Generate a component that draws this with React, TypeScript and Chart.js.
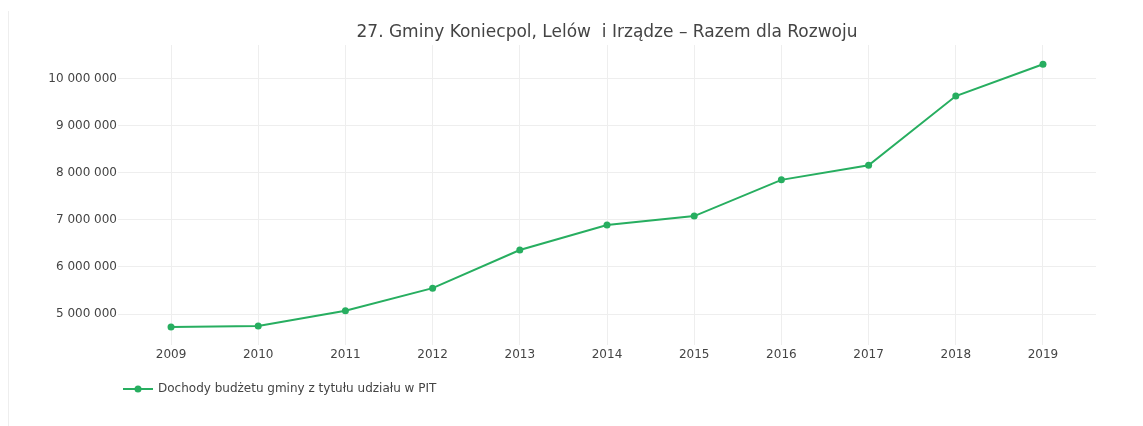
import React, { useEffect, useRef } from "react";
import { Chart, registerables } from "chart.js";

Chart.register(...registerables);

const title = "27. Gminy Koniecpol, Lelów  i Irządze – Razem dla Rozwoju";
const seriesLabel = "Dochody budżetu gminy z tytułu udziału w PIT";
const years = [2009, 2010, 2011, 2012, 2013, 2014, 2015, 2016, 2017, 2018, 2019];
const values = [4725000, 4745000, 5070000, 5550000, 6360000, 6890000, 7080000, 7850000, 8160000, 9630000, 10305000];
const yTicks = [5000000, 6000000, 7000000, 8000000, 9000000, 10000000];

const GREEN = "#27ae60";
const FONT = "'DejaVu Sans', Verdana, sans-serif";
const TEXT = "#444";

const fmt = (v: number) => String(Math.round(v)).replace(/\B(?=(\d{3})+(?!\d))/g, " ");

const overlay = {
  id: "overlay",
  afterDraw(chart: any) {
    const ctx = chart.ctx;
    const ca = chart.chartArea;
    ctx.save();
    ctx.fillStyle = TEXT;
    ctx.font = `17px ${FONT}`;
    ctx.textAlign = "center";
    ctx.textBaseline = "middle";
    ctx.fillText(title, (ca.left + ca.right) / 2, 33);
    const ds = chart.data.datasets[0];
    const ly = 389;
    ctx.strokeStyle = ds.borderColor;
    ctx.lineWidth = 2;
    ctx.beginPath();
    ctx.moveTo(123, ly);
    ctx.lineTo(153, ly);
    ctx.stroke();
    ctx.fillStyle = ds.backgroundColor;
    ctx.beginPath();
    ctx.arc(138, ly, 3.5, 0, Math.PI * 2);
    ctx.fill();
    ctx.fillStyle = TEXT;
    ctx.font = `12px ${FONT}`;
    ctx.textAlign = "left";
    ctx.fillText(ds.label, 158, ly);
    ctx.restore();
  },
};

export default function App() {
  const ref = useRef<HTMLCanvasElement | null>(null);
  useEffect(() => {
    if (!ref.current) return;
    const chart = new Chart(ref.current, {
      type: "line",
      data: {
        datasets: [
          {
            label: seriesLabel,
            data: years.map((y, i) => ({ x: y, y: values[i] })),
            borderColor: GREEN,
            backgroundColor: GREEN,
            borderWidth: 2,
            pointRadius: 3.5,
            pointHoverRadius: 3.5,
            pointBorderWidth: 0,
            tension: 0,
          },
        ],
      },
      options: {
        animation: false,
        responsive: false,
        maintainAspectRatio: false,
        layout: { padding: { left: 0, right: 47, top: 45, bottom: 0 } },
        plugins: { legend: { display: false }, title: { display: false }, tooltip: { enabled: false } },
        scales: {
          x: {
            type: "linear",
            min: 2008.392,
            max: 2019.608,
            border: { display: false },
            grid: { color: "#eeeeee", drawTicks: false, lineWidth: 1 },
            afterBuildTicks: (s: any) => {
              s.ticks = years.map((v) => ({ value: v }));
            },
            ticks: {
              autoSkip: false,
              maxRotation: 0,
              padding: 3,
              color: TEXT,
              font: { family: FONT, size: 12 },
              callback: (v: any) => String(v),
            },
            afterFit: (s: any) => {
              s.height = 426 - 345;
            },
          },
          y: {
            type: "linear",
            min: 4342000,
            max: 10715000,
            border: { display: false },
            grid: { color: "#eeeeee", drawTicks: false, lineWidth: 1 },
            afterBuildTicks: (s: any) => {
              s.ticks = yTicks.map((v) => ({ value: v }));
            },
            ticks: {
              autoSkip: false,
              padding: 1,
              color: TEXT,
              font: { family: FONT, size: 12 },
              callback: (v: any) => fmt(Number(v)),
            },
            afterFit: (s: any) => {
              s.width = 118;
            },
          },
        },
      },
      plugins: [overlay],
    });
    return () => chart.destroy();
  }, []);
  return (
    <div style={{ position: "fixed", left: 0, top: 0, width: 1143, height: 426, background: "#fff" }}>
      <div style={{ position: "absolute", left: 8, top: 11, bottom: 0, width: 1, background: "#eeeeee" }} />
      <canvas ref={ref} width={1143} height={426} style={{ position: "absolute", left: 0, top: 0, width: 1143, height: 426 }} />
    </div>
  );
}
